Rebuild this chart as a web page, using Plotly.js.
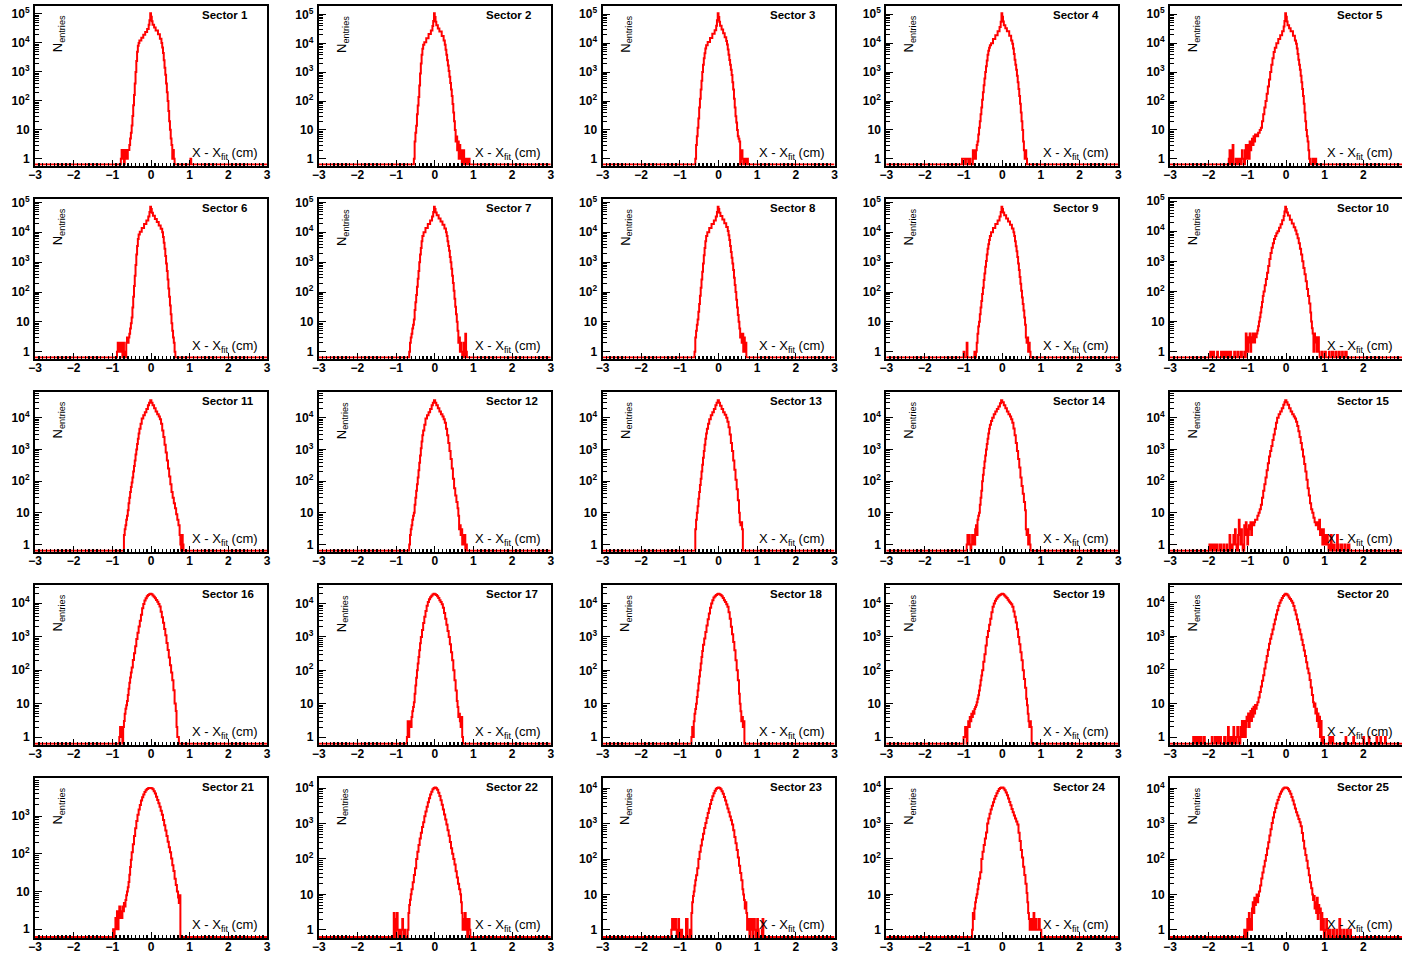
<!DOCTYPE html>
<html><head><meta charset="utf-8">
<script src="https://cdn.plot.ly/plotly-3.0.1.min.js"></script>
<style>html,body{margin:0;padding:0;background:#fff;overflow:hidden}#chart{width:1402px;height:954px}</style>
</head><body><div id="chart"></div>
<script>
// ---- Data: histogram bins [lowEdge, entries] per sector (0 = empty bin) ----
const sectorNames = ['Sector 1','Sector 2','Sector 3','Sector 4','Sector 5','Sector 6','Sector 7','Sector 8','Sector 9','Sector 10','Sector 11','Sector 12','Sector 13','Sector 14','Sector 15','Sector 16','Sector 17','Sector 18','Sector 19','Sector 20','Sector 21','Sector 22','Sector 23','Sector 24','Sector 25'];
const xTickVals = [-3,-2,-1,0,1,2,3];
const xTickText = ['\u22123','\u22122','\u22121','0','1','2','3'];
const yTickVals = [1,10,100,1000,10000,100000];
const yTickText = ['1','10','10<sup>2</sup>','10<sup>3</sup>','10<sup>4</sup>','10<sup>5</sup>'];
const xTitle = 'X - X<sub>fit</sub> (cm)';
const yTitle = 'N<sub>entries</sub>';

const sector1 = [[-0.78,1],[-0.76,2],[-0.74,1],[-0.72,2],[-0.70,0],[-0.68,2],[-0.66,1],[-0.64,2],[-0.62,1],[-0.60,2],[-0.58,2],[-0.56,3],[-0.54,5],[-0.52,8],[-0.50,14],[-0.48,30],[-0.46,70],[-0.44,160],[-0.42,400],[-0.40,1000],[-0.38,2400],[-0.36,5000],[-0.34,8000],[-0.32,10000],[-0.30,12000],[-0.25,15000],[-0.20,19000],[-0.15,24000],[-0.10,30000],[-0.06,42000],[-0.04,60000],[-0.02,105000],[0.00,80000],[0.02,56000],[0.04,42000],[0.08,34000],[0.12,27000],[0.18,20000],[0.23,14000],[0.27,10000],[0.29,7000],[0.31,4500],[0.33,2500],[0.35,1400],[0.37,800],[0.39,400],[0.41,200],[0.43,100],[0.45,45],[0.47,20],[0.49,10],[0.51,5],[0.53,3],[0.55,1],[0.57,2],[0.59,1],[0.61,0],[1.02,1],[1.04,0]];
const sector2 = [[-0.54,1],[-0.52,4],[-0.50,8],[-0.48,14],[-0.46,35],[-0.44,70],[-0.42,140],[-0.40,350],[-0.38,900],[-0.36,2000],[-0.34,4000],[-0.32,6500],[-0.30,9000],[-0.27,11000],[-0.22,15000],[-0.16,21000],[-0.10,28000],[-0.06,40000],[-0.04,60000],[-0.02,110000],[0.00,82000],[0.02,56000],[0.04,42000],[0.08,33000],[0.12,26000],[0.18,18000],[0.23,12500],[0.26,9000],[0.28,6000],[0.30,4000],[0.32,2600],[0.34,1700],[0.36,1100],[0.38,700],[0.40,420],[0.42,250],[0.44,150],[0.46,80],[0.48,40],[0.50,20],[0.52,10],[0.54,4],[0.56,6],[0.58,2],[0.60,4],[0.62,1],[0.64,3],[0.66,1],[0.68,2],[0.70,0],[0.72,1],[0.74,2],[0.76,0],[0.80,1],[0.82,0],[0.86,1],[0.88,1],[0.90,0]];
const sector3 = [[-0.60,1],[-0.58,3],[-0.56,6],[-0.54,12],[-0.52,25],[-0.50,60],[-0.48,120],[-0.46,250],[-0.44,500],[-0.42,1000],[-0.40,1800],[-0.38,3000],[-0.36,4500],[-0.34,6500],[-0.32,8500],[-0.28,11000],[-0.22,15000],[-0.16,21000],[-0.10,28000],[-0.06,40000],[-0.04,62000],[-0.02,108000],[0.00,80000],[0.02,55000],[0.04,40000],[0.08,30000],[0.12,22000],[0.16,16000],[0.20,12000],[0.22,9000],[0.24,6000],[0.26,4000],[0.28,2600],[0.30,1800],[0.32,1200],[0.34,800],[0.36,450],[0.38,250],[0.40,120],[0.42,60],[0.44,30],[0.46,18],[0.48,10],[0.50,6],[0.52,5],[0.54,4],[0.56,0],[0.58,1],[0.60,2],[0.62,1],[0.64,0],[0.66,1],[0.68,1],[0.70,0],[0.74,1],[0.76,0]];
const sector4 = [[-1.04,1],[-1.02,1],[-1.00,1],[-0.98,1],[-0.96,0],[-0.94,1],[-0.92,1],[-0.90,1],[-0.88,0],[-0.84,1],[-0.82,0],[-0.76,2],[-0.74,1],[-0.72,2],[-0.70,1],[-0.68,2],[-0.66,3],[-0.64,4],[-0.62,7],[-0.60,12],[-0.58,20],[-0.56,35],[-0.54,60],[-0.52,110],[-0.50,200],[-0.48,350],[-0.46,600],[-0.44,1000],[-0.42,1600],[-0.40,2500],[-0.38,4000],[-0.36,5500],[-0.34,7000],[-0.32,8500],[-0.29,10000],[-0.24,14000],[-0.18,19000],[-0.12,26000],[-0.07,36000],[-0.04,55000],[-0.02,108000],[0.00,82000],[0.02,56000],[0.04,42000],[0.08,33000],[0.12,26000],[0.18,18000],[0.23,12500],[0.26,9500],[0.28,6500],[0.30,4200],[0.32,2700],[0.34,1800],[0.36,1200],[0.38,750],[0.40,450],[0.42,260],[0.44,150],[0.46,80],[0.48,40],[0.50,20],[0.52,10],[0.54,4],[0.56,2],[0.58,1],[0.60,2],[0.62,1],[0.64,0]];
const sector5 = [[-1.48,1],[-1.46,2],[-1.44,0],[-1.40,2],[-1.38,3],[-1.36,0],[-1.30,1],[-1.28,0],[-1.24,1],[-1.22,1],[-1.20,0],[-1.16,1],[-1.14,2],[-1.12,1],[-1.10,0],[-1.06,2],[-1.04,3],[-1.02,1],[-1.00,2],[-0.98,3],[-0.96,1],[-0.94,4],[-0.92,2],[-0.90,3],[-0.88,5],[-0.86,3],[-0.84,6],[-0.82,4],[-0.80,7],[-0.76,6],[-0.72,8],[-0.68,10],[-0.65,12],[-0.62,20],[-0.59,35],[-0.56,60],[-0.53,100],[-0.50,180],[-0.47,320],[-0.44,550],[-0.41,1000],[-0.38,1800],[-0.35,3000],[-0.32,5000],[-0.29,7000],[-0.25,10000],[-0.20,14000],[-0.15,19000],[-0.10,26000],[-0.06,38000],[-0.04,58000],[-0.02,108000],[0.00,82000],[0.02,56000],[0.04,42000],[0.08,33000],[0.12,26000],[0.18,18000],[0.23,12500],[0.26,9500],[0.28,6500],[0.30,4200],[0.32,2700],[0.34,1800],[0.36,1200],[0.38,750],[0.40,450],[0.42,260],[0.44,150],[0.46,80],[0.48,40],[0.50,20],[0.52,10],[0.54,6],[0.56,4],[0.58,2],[0.60,1],[0.62,0],[0.68,1],[0.70,0],[0.74,1],[0.76,1],[0.78,0]];
const sector6 = [[-0.88,1],[-0.86,2],[-0.84,1],[-0.82,2],[-0.80,2],[-0.78,1],[-0.76,2],[-0.74,0],[-0.72,2],[-0.70,1],[-0.68,0],[-0.64,2],[-0.62,3],[-0.60,2],[-0.58,3],[-0.56,4],[-0.54,6],[-0.52,9],[-0.50,14],[-0.48,30],[-0.46,70],[-0.44,160],[-0.42,350],[-0.40,800],[-0.38,1800],[-0.36,3500],[-0.34,6000],[-0.32,8500],[-0.29,10500],[-0.24,14000],[-0.18,19000],[-0.12,25000],[-0.07,34000],[-0.04,48000],[-0.02,72000],[0.00,60000],[0.02,45000],[0.05,36000],[0.10,28000],[0.15,22000],[0.20,17000],[0.25,13000],[0.29,10000],[0.31,7000],[0.33,4500],[0.35,2800],[0.37,1600],[0.39,900],[0.41,500],[0.43,260],[0.45,130],[0.47,70],[0.49,35],[0.51,18],[0.53,9],[0.55,5],[0.57,3],[0.59,2],[0.61,1],[0.63,0]];
const sector7 = [[-0.66,1],[-0.64,2],[-0.62,3],[-0.60,4],[-0.58,6],[-0.56,8],[-0.54,12],[-0.52,25],[-0.50,45],[-0.48,80],[-0.46,150],[-0.44,280],[-0.42,500],[-0.40,1000],[-0.38,1800],[-0.36,3000],[-0.34,5000],[-0.32,7500],[-0.29,10000],[-0.24,14000],[-0.18,19000],[-0.12,25000],[-0.07,34000],[-0.04,48000],[-0.02,72000],[0.00,60000],[0.02,46000],[0.05,37000],[0.10,29000],[0.15,23000],[0.20,18000],[0.25,13500],[0.29,10000],[0.31,7500],[0.33,5000],[0.35,3500],[0.37,2400],[0.39,1500],[0.41,1000],[0.43,600],[0.45,350],[0.47,200],[0.49,110],[0.51,60],[0.53,32],[0.55,18],[0.57,10],[0.59,5],[0.61,2],[0.63,3],[0.65,1],[0.67,2],[0.69,1],[0.71,0],[0.73,1],[0.75,2],[0.77,0],[0.79,4],[0.81,1],[0.83,0]];
const sector8 = [[-0.62,1],[-0.60,3],[-0.58,5],[-0.56,8],[-0.54,12],[-0.52,22],[-0.50,40],[-0.48,75],[-0.46,140],[-0.44,260],[-0.42,480],[-0.40,900],[-0.38,1700],[-0.36,3000],[-0.34,5000],[-0.32,7500],[-0.29,10000],[-0.24,14000],[-0.18,19000],[-0.12,25000],[-0.07,34000],[-0.04,48000],[-0.02,72000],[0.00,60000],[0.02,45000],[0.05,35000],[0.10,27000],[0.15,20000],[0.20,15000],[0.24,11000],[0.26,8000],[0.28,5500],[0.30,3500],[0.32,2200],[0.34,1400],[0.36,900],[0.38,550],[0.40,300],[0.42,170],[0.44,100],[0.46,55],[0.48,30],[0.50,17],[0.52,10],[0.54,6],[0.56,3],[0.58,4],[0.60,2],[0.62,4],[0.64,1],[0.66,3],[0.68,1],[0.70,2],[0.72,0]];
const sector9 = [[-1.00,1],[-0.98,0],[-0.92,2],[-0.90,0],[-0.72,1],[-0.70,0],[-0.68,1],[-0.66,2],[-0.64,4],[-0.62,7],[-0.60,10],[-0.58,18],[-0.56,30],[-0.54,50],[-0.52,85],[-0.50,140],[-0.48,250],[-0.46,420],[-0.44,700],[-0.42,1100],[-0.40,1800],[-0.38,2800],[-0.36,4000],[-0.34,5500],[-0.32,7500],[-0.29,10000],[-0.24,14000],[-0.18,19000],[-0.12,25000],[-0.07,34000],[-0.04,48000],[-0.02,72000],[0.00,60000],[0.02,46000],[0.05,37000],[0.10,29000],[0.15,23000],[0.20,18000],[0.25,13500],[0.29,10000],[0.31,7500],[0.33,5000],[0.35,3400],[0.37,2300],[0.39,1500],[0.41,900],[0.43,550],[0.45,320],[0.47,190],[0.49,110],[0.51,65],[0.53,40],[0.55,24],[0.57,14],[0.59,8],[0.61,3],[0.63,2],[0.65,3],[0.67,1],[0.69,2],[0.71,1],[0.73,0]];
const sector10 = [[-1.96,1],[-1.94,0],[-1.90,1],[-1.88,1],[-1.86,0],[-1.78,1],[-1.76,0],[-1.68,1],[-1.66,1],[-1.64,0],[-1.60,1],[-1.58,1],[-1.56,0],[-1.52,1],[-1.50,0],[-1.46,1],[-1.44,1],[-1.42,0],[-1.34,1],[-1.32,0],[-1.26,1],[-1.24,0],[-1.18,1],[-1.16,1],[-1.14,0],[-1.08,1],[-1.06,0],[-1.04,4],[-1.02,3],[-1.00,1],[-0.98,3],[-0.96,2],[-0.94,4],[-0.92,1],[-0.90,3],[-0.88,2],[-0.86,4],[-0.84,3],[-0.82,2],[-0.80,4],[-0.78,3],[-0.76,4],[-0.74,5],[-0.72,7],[-0.70,10],[-0.68,14],[-0.66,20],[-0.64,30],[-0.62,45],[-0.60,70],[-0.58,100],[-0.55,160],[-0.52,260],[-0.49,420],[-0.46,700],[-0.43,1200],[-0.40,1900],[-0.37,2800],[-0.34,4000],[-0.31,5500],[-0.28,7000],[-0.25,8500],[-0.22,10000],[-0.18,13000],[-0.14,17000],[-0.10,23000],[-0.06,32000],[-0.04,45000],[-0.02,65000],[0.00,55000],[0.02,42000],[0.05,33000],[0.10,24000],[0.15,18000],[0.20,13500],[0.24,10500],[0.27,8000],[0.30,5800],[0.33,4000],[0.36,2600],[0.39,1700],[0.42,1000],[0.45,600],[0.48,370],[0.51,220],[0.54,120],[0.57,70],[0.60,40],[0.63,20],[0.65,10],[0.67,6],[0.69,4],[0.71,1],[0.73,4],[0.75,2],[0.77,3],[0.79,1],[0.81,2],[0.83,3],[0.85,1],[0.87,0],[0.93,1],[0.95,0],[1.01,1],[1.03,0],[1.11,1],[1.13,0],[1.19,1],[1.21,1],[1.23,0],[1.29,1],[1.31,0],[1.37,1],[1.39,0],[1.45,1],[1.47,0],[1.53,1],[1.55,1],[1.57,0]];
const sector11 = [[-0.70,2],[-0.68,3],[-0.66,4],[-0.64,6],[-0.62,8],[-0.60,12],[-0.58,20],[-0.56,30],[-0.54,45],[-0.52,65],[-0.50,90],[-0.48,130],[-0.46,200],[-0.44,300],[-0.42,450],[-0.40,700],[-0.38,1000],[-0.36,1500],[-0.34,2200],[-0.32,3200],[-0.30,4500],[-0.27,6500],[-0.24,9500],[-0.20,12000],[-0.16,15000],[-0.12,19000],[-0.08,25000],[-0.05,30000],[-0.02,36000],[0.01,30000],[0.04,25000],[0.08,20000],[0.12,16000],[0.16,13000],[0.20,11000],[0.23,9000],[0.26,6500],[0.29,4000],[0.32,2500],[0.35,1400],[0.38,800],[0.41,450],[0.44,250],[0.47,140],[0.50,80],[0.53,45],[0.56,30],[0.59,20],[0.62,14],[0.65,9],[0.68,6],[0.71,4],[0.74,2],[0.76,1],[0.78,0],[0.80,2],[0.82,1],[0.84,0]];
const sector12 = [[-0.66,1],[-0.64,2],[-0.62,3],[-0.60,4],[-0.58,6],[-0.56,8],[-0.54,10],[-0.52,18],[-0.50,30],[-0.48,50],[-0.46,80],[-0.44,130],[-0.42,220],[-0.40,380],[-0.38,650],[-0.36,1100],[-0.34,1800],[-0.32,2800],[-0.30,4000],[-0.27,6000],[-0.24,9500],[-0.20,12000],[-0.16,15000],[-0.12,19000],[-0.08,25000],[-0.05,30000],[-0.02,36000],[0.01,30000],[0.04,25000],[0.08,20000],[0.12,16000],[0.16,13000],[0.20,11000],[0.23,9000],[0.26,7000],[0.29,4500],[0.32,2800],[0.35,1600],[0.38,900],[0.41,500],[0.44,250],[0.47,120],[0.50,60],[0.53,35],[0.56,22],[0.59,14],[0.61,8],[0.63,3],[0.65,4],[0.67,2],[0.69,3],[0.71,1],[0.73,2],[0.75,1],[0.77,2],[0.79,0],[0.81,1],[0.83,0]];
const sector13 = [[-0.60,3],[-0.58,6],[-0.56,10],[-0.54,16],[-0.52,28],[-0.50,45],[-0.48,75],[-0.46,120],[-0.44,200],[-0.42,330],[-0.40,550],[-0.38,900],[-0.36,1400],[-0.34,2200],[-0.32,3200],[-0.30,4500],[-0.27,6500],[-0.24,9000],[-0.20,12000],[-0.16,15000],[-0.12,19000],[-0.08,25000],[-0.05,30000],[-0.02,36000],[0.01,30000],[0.04,24000],[0.08,19000],[0.12,15000],[0.16,12500],[0.20,10000],[0.23,7500],[0.26,5000],[0.29,3000],[0.32,1600],[0.35,900],[0.38,450],[0.41,230],[0.44,110],[0.47,55],[0.50,25],[0.53,10],[0.55,5],[0.57,4],[0.59,5],[0.61,3],[0.63,0]];
const sector14 = [[-0.92,1],[-0.90,2],[-0.88,1],[-0.86,2],[-0.84,1],[-0.82,0],[-0.80,1],[-0.78,2],[-0.76,1],[-0.74,2],[-0.72,1],[-0.70,3],[-0.68,4],[-0.66,2],[-0.64,6],[-0.62,8],[-0.60,10],[-0.58,18],[-0.56,30],[-0.54,50],[-0.52,100],[-0.50,160],[-0.48,260],[-0.46,420],[-0.44,650],[-0.42,1000],[-0.40,1500],[-0.38,2200],[-0.36,3200],[-0.34,4500],[-0.32,6000],[-0.29,8000],[-0.26,10000],[-0.22,13000],[-0.18,16000],[-0.14,19000],[-0.10,23000],[-0.06,29000],[-0.03,36000],[0.00,31000],[0.04,25000],[0.08,20000],[0.12,16000],[0.16,13000],[0.20,11000],[0.23,9000],[0.26,7000],[0.29,4600],[0.32,2800],[0.35,1600],[0.38,900],[0.41,500],[0.44,270],[0.47,130],[0.50,70],[0.53,40],[0.56,22],[0.59,12],[0.61,3],[0.63,2],[0.65,3],[0.67,1],[0.69,2],[0.71,1],[0.73,0]];
const sector15 = [[-1.98,1],[-1.96,1],[-1.94,0],[-1.90,1],[-1.88,1],[-1.86,0],[-1.82,1],[-1.80,1],[-1.78,0],[-1.72,1],[-1.70,1],[-1.68,0],[-1.62,1],[-1.60,0],[-1.54,1],[-1.52,0],[-1.46,2],[-1.44,1],[-1.42,0],[-1.38,1],[-1.36,2],[-1.34,1],[-1.32,3],[-1.30,1],[-1.28,0],[-1.24,2],[-1.22,6],[-1.20,2],[-1.18,1],[-1.16,3],[-1.14,1],[-1.12,0],[-1.08,4],[-1.06,2],[-1.04,5],[-1.02,3],[-1.00,1],[-0.98,2],[-0.96,4],[-0.94,3],[-0.92,5],[-0.90,2],[-0.88,4],[-0.86,5],[-0.84,4],[-0.82,5],[-0.80,6],[-0.77,6],[-0.74,8],[-0.71,10],[-0.68,13],[-0.65,18],[-0.62,30],[-0.59,50],[-0.56,80],[-0.53,130],[-0.50,220],[-0.47,370],[-0.44,600],[-0.41,900],[-0.38,1300],[-0.35,2000],[-0.32,3000],[-0.29,4500],[-0.26,7000],[-0.23,10000],[-0.19,13000],[-0.15,16000],[-0.11,20000],[-0.07,26000],[-0.04,31000],[-0.02,36000],[0.01,31000],[0.04,26000],[0.08,20000],[0.12,16000],[0.16,13000],[0.20,11000],[0.23,9500],[0.26,7500],[0.29,5500],[0.32,3800],[0.35,2500],[0.38,1600],[0.41,1000],[0.44,600],[0.47,350],[0.50,200],[0.53,110],[0.56,60],[0.59,35],[0.62,20],[0.65,13],[0.68,10],[0.71,7],[0.74,5],[0.77,4],[0.80,5],[0.83,3],[0.86,6],[0.88,2],[0.90,3],[0.92,2],[0.94,1],[0.96,3],[0.98,2],[1.00,1],[1.02,2],[1.04,1],[1.06,2],[1.08,1],[1.10,0],[1.14,1],[1.16,2],[1.18,0],[1.22,1],[1.24,1],[1.26,0],[1.32,2],[1.34,1],[1.36,0],[1.42,1],[1.44,1],[1.46,0],[1.52,1],[1.54,0],[1.60,1],[1.62,1],[1.64,0]];
const sector16 = [[-0.82,1],[-0.80,2],[-0.78,1],[-0.76,2],[-0.74,0],[-0.72,2],[-0.70,3],[-0.68,5],[-0.66,7],[-0.64,9],[-0.62,12],[-0.60,18],[-0.58,28],[-0.56,42],[-0.54,60],[-0.52,85],[-0.50,120],[-0.47,200],[-0.44,320],[-0.41,520],[-0.38,850],[-0.35,1300],[-0.32,2000],[-0.29,3000],[-0.26,4500],[-0.23,7000],[-0.20,9500],[-0.17,12000],[-0.14,14000],[-0.11,16000],[-0.08,17500],[-0.05,18500],[-0.02,19000],[0.01,18500],[0.04,17000],[0.07,15500],[0.10,14000],[0.13,12500],[0.16,11000],[0.19,9500],[0.22,8000],[0.25,5500],[0.28,3800],[0.31,2600],[0.34,1700],[0.37,1100],[0.40,650],[0.43,400],[0.46,240],[0.49,140],[0.52,85],[0.55,50],[0.58,25],[0.61,10],[0.64,6],[0.66,2],[0.68,1],[0.70,1],[0.72,0]];
const sector17 = [[-0.72,1],[-0.70,3],[-0.68,1],[-0.66,2],[-0.64,3],[-0.62,2],[-0.60,4],[-0.58,6],[-0.56,8],[-0.54,11],[-0.52,20],[-0.50,35],[-0.48,60],[-0.46,100],[-0.44,160],[-0.42,250],[-0.40,400],[-0.38,650],[-0.36,1000],[-0.33,1600],[-0.30,2600],[-0.27,4000],[-0.24,6000],[-0.21,8500],[-0.18,11000],[-0.15,13500],[-0.12,15500],[-0.09,17000],[-0.06,18500],[-0.03,19500],[0.00,19000],[0.03,18000],[0.06,16500],[0.09,14500],[0.12,12500],[0.15,11000],[0.18,9500],[0.21,7500],[0.24,5200],[0.27,3500],[0.30,2300],[0.33,1500],[0.36,1000],[0.39,600],[0.42,350],[0.45,200],[0.48,100],[0.51,50],[0.54,25],[0.57,12],[0.59,8],[0.61,4],[0.63,5],[0.65,3],[0.67,2],[0.69,4],[0.71,1],[0.73,0]];
const sector18 = [[-0.70,1],[-0.68,2],[-0.66,1],[-0.64,3],[-0.62,5],[-0.60,7],[-0.58,10],[-0.56,16],[-0.54,25],[-0.52,40],[-0.50,65],[-0.48,100],[-0.46,160],[-0.44,250],[-0.42,380],[-0.40,580],[-0.37,900],[-0.34,1400],[-0.31,2200],[-0.28,3400],[-0.25,5000],[-0.22,7500],[-0.19,10000],[-0.16,12500],[-0.13,15000],[-0.10,16500],[-0.07,18000],[-0.04,19000],[-0.01,19500],[0.02,19000],[0.05,18000],[0.08,16500],[0.11,14500],[0.14,12500],[0.17,11000],[0.20,9500],[0.23,8000],[0.26,5500],[0.29,3500],[0.32,2000],[0.35,1200],[0.38,700],[0.41,400],[0.44,200],[0.47,100],[0.50,50],[0.53,20],[0.55,10],[0.57,6],[0.59,3],[0.61,4],[0.63,2],[0.65,3],[0.67,0]];
const sector19 = [[-1.00,1],[-0.98,1],[-0.96,2],[-0.94,1],[-0.92,0],[-0.90,2],[-0.88,3],[-0.86,2],[-0.84,4],[-0.82,3],[-0.80,5],[-0.78,4],[-0.76,6],[-0.74,5],[-0.72,7],[-0.70,8],[-0.68,9],[-0.66,11],[-0.64,14],[-0.62,18],[-0.60,25],[-0.58,35],[-0.56,50],[-0.54,70],[-0.52,100],[-0.49,180],[-0.46,300],[-0.43,550],[-0.40,1000],[-0.37,1500],[-0.34,2300],[-0.31,3500],[-0.28,5500],[-0.25,8000],[-0.22,10000],[-0.19,12000],[-0.16,14000],[-0.13,15500],[-0.10,17000],[-0.07,18000],[-0.04,19000],[-0.01,19500],[0.02,19000],[0.05,17500],[0.08,16000],[0.11,14500],[0.14,13000],[0.17,11500],[0.20,10500],[0.23,9500],[0.26,8000],[0.29,5800],[0.32,4000],[0.35,2700],[0.38,1700],[0.41,1000],[0.44,600],[0.47,350],[0.50,200],[0.53,100],[0.56,55],[0.59,30],[0.62,14],[0.64,9],[0.66,5],[0.68,3],[0.70,2],[0.72,3],[0.74,2],[0.76,0]];
const sector20 = [[-2.40,1],[-2.38,0],[-2.34,1],[-2.32,1],[-2.30,0],[-2.26,1],[-2.24,0],[-2.20,1],[-2.18,0],[-2.12,1],[-2.10,0],[-1.92,1],[-1.90,0],[-1.84,1],[-1.82,1],[-1.80,0],[-1.76,1],[-1.74,0],[-1.70,1],[-1.68,0],[-1.60,1],[-1.58,1],[-1.56,0],[-1.50,2],[-1.48,1],[-1.46,0],[-1.42,1],[-1.40,0],[-1.36,2],[-1.34,1],[-1.32,0],[-1.28,1],[-1.26,2],[-1.24,1],[-1.22,0],[-1.18,2],[-1.16,1],[-1.14,3],[-1.12,1],[-1.10,2],[-1.08,3],[-1.06,1],[-1.04,2],[-1.02,4],[-1.00,3],[-0.98,5],[-0.96,2],[-0.94,4],[-0.92,6],[-0.90,3],[-0.88,7],[-0.86,4],[-0.84,8],[-0.82,5],[-0.80,9],[-0.78,7],[-0.76,9],[-0.74,11],[-0.71,15],[-0.68,22],[-0.65,32],[-0.62,48],[-0.59,70],[-0.56,110],[-0.53,170],[-0.50,260],[-0.47,400],[-0.44,600],[-0.41,850],[-0.38,1150],[-0.35,1600],[-0.32,2300],[-0.29,3200],[-0.26,4500],[-0.23,6000],[-0.20,8000],[-0.17,10000],[-0.14,12000],[-0.11,14000],[-0.08,16000],[-0.05,17500],[-0.02,18500],[0.01,18000],[0.04,16500],[0.07,14500],[0.10,13000],[0.13,11500],[0.16,10000],[0.19,8000],[0.22,6000],[0.25,4500],[0.28,3200],[0.31,2300],[0.34,1600],[0.37,1150],[0.40,800],[0.43,550],[0.46,380],[0.49,260],[0.52,170],[0.55,110],[0.58,80],[0.61,50],[0.64,30],[0.67,18],[0.70,11],[0.72,8],[0.74,10],[0.76,5],[0.78,7],[0.80,3],[0.82,5],[0.84,2],[0.86,4],[0.88,1],[0.90,3],[0.92,0],[0.96,1],[0.98,0],[1.12,1],[1.14,1],[1.16,0],[1.20,1],[1.22,0],[1.54,1],[1.56,0],[1.74,1],[1.76,0],[2.00,1],[2.02,0],[2.14,1],[2.16,0],[2.34,1],[2.36,0],[2.44,1],[2.46,0],[2.56,1],[2.58,0]];
const sector21 = [[-0.98,1],[-0.96,0],[-0.94,1],[-0.92,2],[-0.90,1],[-0.88,3],[-0.86,1],[-0.84,2],[-0.82,4],[-0.80,2],[-0.78,3],[-0.76,2],[-0.74,4],[-0.72,3],[-0.70,5],[-0.68,4],[-0.66,6],[-0.64,8],[-0.62,10],[-0.60,13],[-0.58,18],[-0.56,28],[-0.54,45],[-0.52,70],[-0.50,110],[-0.47,180],[-0.44,300],[-0.41,480],[-0.38,750],[-0.35,1100],[-0.32,1500],[-0.29,2000],[-0.26,2600],[-0.23,3200],[-0.20,3800],[-0.17,4400],[-0.14,4900],[-0.11,5300],[-0.08,5500],[-0.05,5600],[-0.02,5600],[0.01,5500],[0.04,5200],[0.07,4600],[0.10,4000],[0.13,3300],[0.16,2700],[0.19,2200],[0.22,1800],[0.25,1400],[0.28,1100],[0.31,800],[0.34,580],[0.37,420],[0.40,300],[0.43,210],[0.46,150],[0.49,110],[0.52,75],[0.55,50],[0.58,35],[0.61,22],[0.64,15],[0.67,10],[0.70,7],[0.72,5],[0.74,8],[0.76,0]];
const sector22 = [[-1.06,3],[-1.04,1],[-1.02,0],[-1.00,2],[-0.98,3],[-0.96,1],[-0.94,0],[-0.92,1],[-0.90,1],[-0.88,0],[-0.86,1],[-0.84,2],[-0.82,1],[-0.80,0],[-0.78,1],[-0.76,0],[-0.70,1],[-0.68,3],[-0.66,5],[-0.64,7],[-0.62,10],[-0.60,14],[-0.57,22],[-0.54,35],[-0.51,55],[-0.48,100],[-0.45,160],[-0.42,250],[-0.39,380],[-0.36,550],[-0.33,800],[-0.30,1100],[-0.27,1600],[-0.24,2200],[-0.21,3000],[-0.18,4000],[-0.15,5200],[-0.12,6600],[-0.09,8000],[-0.06,9300],[-0.03,10200],[0.00,10500],[0.03,10000],[0.06,9000],[0.09,7500],[0.12,6000],[0.15,4600],[0.18,3400],[0.21,2500],[0.24,1800],[0.27,1300],[0.30,950],[0.33,650],[0.36,450],[0.39,300],[0.42,200],[0.45,140],[0.48,100],[0.51,70],[0.54,45],[0.57,30],[0.60,20],[0.63,14],[0.66,10],[0.68,6],[0.70,3],[0.72,1],[0.74,2],[0.76,1],[0.78,3],[0.80,1],[0.82,2],[0.84,0],[0.86,1],[0.88,2],[0.90,1],[0.92,0]];
const sector23 = [[-1.22,1],[-1.20,2],[-1.18,1],[-1.16,2],[-1.14,1],[-1.12,2],[-1.10,1],[-1.08,0],[-1.04,2],[-1.02,1],[-1.00,0],[-0.96,1],[-0.94,0],[-0.84,2],[-0.82,2],[-0.80,0],[-0.74,1],[-0.72,0],[-0.70,3],[-0.68,6],[-0.66,9],[-0.64,12],[-0.62,18],[-0.60,25],[-0.58,35],[-0.55,55],[-0.52,100],[-0.49,160],[-0.46,240],[-0.43,360],[-0.40,520],[-0.37,750],[-0.34,1050],[-0.31,1450],[-0.28,2000],[-0.25,2700],[-0.22,3600],[-0.19,4700],[-0.16,6000],[-0.13,7300],[-0.10,8600],[-0.07,9700],[-0.04,10300],[-0.01,10600],[0.02,10300],[0.05,9500],[0.08,8300],[0.11,7000],[0.14,5700],[0.17,4500],[0.20,3500],[0.23,2700],[0.26,2100],[0.29,1600],[0.32,1250],[0.35,950],[0.38,650],[0.41,420],[0.44,280],[0.47,180],[0.50,110],[0.53,65],[0.56,40],[0.59,25],[0.62,14],[0.64,10],[0.66,7],[0.68,4],[0.70,6],[0.72,3],[0.74,1],[0.76,2],[0.78,1],[0.80,0],[0.82,2],[0.84,1],[0.86,2],[0.88,0],[0.90,1],[0.92,2],[0.94,1],[0.96,0],[1.00,2],[1.02,1],[1.04,0],[1.12,1],[1.14,2],[1.16,0]];
const sector24 = [[-0.78,1],[-0.76,3],[-0.74,2],[-0.72,4],[-0.70,6],[-0.68,8],[-0.66,10],[-0.64,14],[-0.62,20],[-0.60,28],[-0.57,42],[-0.54,100],[-0.51,160],[-0.48,250],[-0.45,380],[-0.42,560],[-0.39,1000],[-0.36,1400],[-0.33,1900],[-0.30,2500],[-0.27,3200],[-0.24,4000],[-0.21,5000],[-0.18,6000],[-0.15,7200],[-0.12,8400],[-0.09,9500],[-0.06,10200],[-0.03,10500],[0.00,10400],[0.03,9800],[0.06,8800],[0.09,7600],[0.12,6300],[0.15,5100],[0.18,4100],[0.21,3300],[0.24,2600],[0.27,2100],[0.30,1700],[0.33,1400],[0.36,1150],[0.39,950],[0.42,550],[0.45,320],[0.48,180],[0.51,110],[0.54,60],[0.57,35],[0.60,20],[0.63,11],[0.65,6],[0.67,3],[0.69,2],[0.71,1],[0.73,1],[0.75,2],[0.77,1],[0.79,1],[0.81,3],[0.83,1],[0.85,1],[0.87,2],[0.89,1],[0.91,1],[0.93,1],[0.95,2],[0.97,1],[0.99,1],[1.01,0]];
const sector25 = [[-1.08,1],[-1.06,0],[-1.04,1],[-1.02,0],[-1.00,2],[-0.98,1],[-0.96,3],[-0.94,1],[-0.92,2],[-0.90,1],[-0.88,4],[-0.86,6],[-0.84,3],[-0.82,8],[-0.80,5],[-0.78,7],[-0.76,10],[-0.74,6],[-0.72,9],[-0.70,12],[-0.67,18],[-0.64,28],[-0.61,42],[-0.58,62],[-0.55,90],[-0.52,130],[-0.49,200],[-0.46,300],[-0.43,460],[-0.40,700],[-0.37,1050],[-0.34,1500],[-0.31,2100],[-0.28,2800],[-0.25,3700],[-0.22,4700],[-0.19,5800],[-0.16,7000],[-0.13,8200],[-0.10,9300],[-0.07,10100],[-0.04,10500],[-0.01,10600],[0.02,10200],[0.05,9400],[0.08,8300],[0.11,7000],[0.14,5700],[0.17,4500],[0.20,3500],[0.23,2700],[0.26,2100],[0.29,1700],[0.32,1350],[0.35,1100],[0.38,850],[0.41,550],[0.44,330],[0.47,200],[0.50,130],[0.53,90],[0.56,55],[0.59,35],[0.62,22],[0.65,15],[0.68,10],[0.70,7],[0.72,9],[0.74,4],[0.76,6],[0.78,3],[0.80,8],[0.82,2],[0.84,5],[0.86,3],[0.88,4],[0.90,1],[0.92,3],[0.94,1],[0.96,2],[0.98,0],[1.02,1],[1.04,2],[1.06,1],[1.08,0],[1.12,1],[1.14,0],[1.20,1],[1.22,1],[1.24,0],[1.30,1],[1.32,0],[1.38,2],[1.40,1],[1.42,0],[1.48,1],[1.50,0],[1.56,1],[1.58,1],[1.60,0],[1.66,1],[1.68,0]];

const sectors = [sector1,sector2,sector3,sector4,sector5,sector6,sector7,sector8,sector9,sector10,sector11,sector12,sector13,sector14,sector15,sector16,sector17,sector18,sector19,sector20,sector21,sector22,sector23,sector24,sector25];

// ---- Layout / drawing ----
const W = 1402, H = 954;
const FONT = 'Liberation Sans, Arial, Helvetica, sans-serif';
const minorX = []; for (let k = -30; k <= 30; k++) { if (k % 10 !== 0) minorX.push(k / 10); }
const minorY = []; for (let e = 0; e < 6; e++) for (let d = 2; d <= 9; d++) minorY.push(d * Math.pow(10, e));

const traces = [];
const layout = {width: W, height: H, margin: {l: 0, r: 0, t: 0, b: 0}, showlegend: false,
  paper_bgcolor: '#ffffff', plot_bgcolor: '#ffffff', annotations: []};

const axCommon = {showline: true, linecolor: '#000', linewidth: 2, mirror: true, showgrid: false, zeroline: false,
  ticks: 'inside', tickcolor: '#000', tickwidth: 1, fixedrange: true,
  tickfont: {family: FONT, size: 12, color: '#000', weight: 'bold'}};

sectors.forEach((data, i) => {
  const r = Math.floor(i / 5), c = i % 5;
  const left = 35 + 283.75 * c, right = Math.min(left + 232, W);
  const top = 5.5 + 193.1 * r, bottom = top + 160;
  const id = i === 0 ? '' : String(i + 1);
  const maxN = Math.max(...data.map(p => p[1]));
  const L = Math.log10(maxN);
  const yTop = L + 0.27, yBot = -0.23;
  const floor = Math.pow(10, yBot + 1.0 * (yTop - yBot) / 160);
  const xs = [-3], ys = [floor];
  data.forEach(([x, n]) => { xs.push(x); ys.push(n > 0 ? n : floor); });
  xs.push(3); ys.push(floor);
  // labels too close to the top edge are not drawn (as in the reference)
  const tv = [], tt = [];
  yTickVals.forEach((v, k) => { if (Math.log10(v) <= yTop - 0.04) { tv.push(v); tt.push(yTickText[k]); } });
  traces.push({type: 'scatter', mode: 'lines', x: xs, y: ys, xaxis: 'x' + id, yaxis: 'y' + id,
    line: {color: '#ff0000', width: 2, shape: 'hv'}, hoverinfo: 'skip'});
  layout['xaxis' + id] = Object.assign({}, axCommon, {
    domain: [left / W, right / W], anchor: 'y' + id, range: [-3, 3],
    tickmode: 'array', tickvals: xTickVals, ticktext: xTickText, ticklen: 6, ticklabelstandoff: -3,
    minor: {tickmode: 'array', tickvals: minorX, ticks: 'inside', ticklen: 3, tickcolor: '#000', tickwidth: 1.5, showgrid: false}
  });
  layout['yaxis' + id] = Object.assign({}, axCommon, {
    domain: [1 - bottom / H, 1 - top / H], anchor: 'x' + id, type: 'log', range: [yBot, yTop],
    tickmode: 'array', tickvals: tv, ticktext: tt, ticklen: 7, ticklabelstandoff: 1,
    minor: {tickmode: 'array', tickvals: minorY, ticks: 'inside', ticklen: 4, tickcolor: '#000', tickwidth: 1, showgrid: false}
  });
  const xr = 'x' + id + ' domain', yr = 'y' + id + ' domain';
  layout.annotations.push({xref: xr, yref: yr, x: 165 / 232, y: 1 - 9 / 160, xanchor: 'left', yanchor: 'middle',
    text: '<b>' + sectorNames[i] + '</b>', showarrow: false, font: {family: FONT, size: 11.5, color: '#000'}});
  layout.annotations.push({xref: xr, yref: yr, x: 0.968, y: 0.075, xanchor: 'right', yanchor: 'middle',
    text: xTitle, showarrow: false, font: {family: FONT, size: 13, color: '#000'}});
  layout.annotations.push({xref: xr, yref: yr, x: 0.1, y: 0.95, xanchor: 'center', yanchor: 'top',
    text: yTitle, textangle: -90, showarrow: false, font: {family: FONT, size: 13, color: '#000'}});
});

Plotly.newPlot('chart', traces, layout, {staticPlot: true, displayModeBar: false});
</script>
</body></html>
